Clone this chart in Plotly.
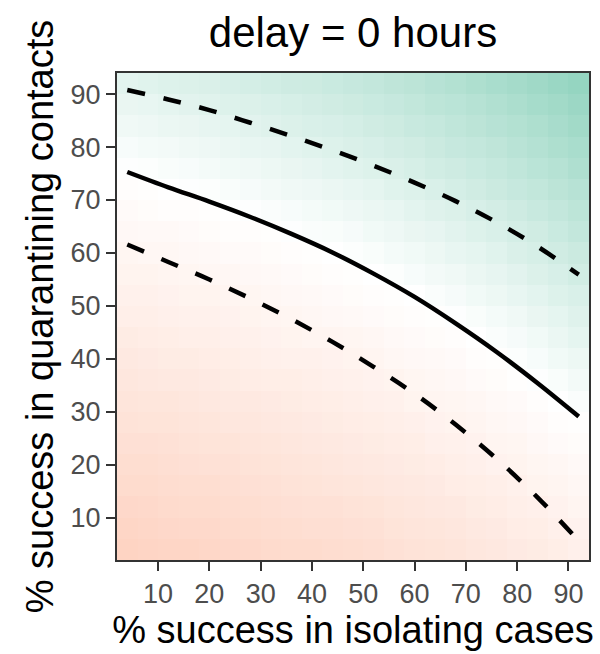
import plotly.graph_objects as go

# grid centres (% success)
iso_pct = [4, 8, 12, 16, 20, 24, 28, 32, 36, 40, 44, 48, 52, 56, 60, 64, 68, 72, 76, 80, 84, 88, 92]
quar_pct = [4, 8, 12, 16, 20, 24, 28, 32, 36, 40, 44, 48, 52, 56, 60, 64, 68, 72, 76, 80, 84, 88, 92]

# fill value per cell (rows = quarantine %, columns = isolation %)
fill_vals = [
    [-38,-37,-36,-36,-35,-34,-33,-32,-31,-31,-30,-29,-28,-26,-25,-24,-23,-21,-20,-18,-17,-15,-13],
    [-36,-35,-34,-33,-33,-32,-31,-30,-29,-28,-28,-27,-26,-24,-23,-22,-21,-19,-18,-16,-15,-13,-11],
    [-34,-33,-32,-31,-31,-30,-29,-28,-27,-26,-26,-25,-24,-22,-21,-20,-19,-17,-16,-14,-13,-11,-9],
    [-31,-31,-30,-29,-29,-28,-27,-26,-25,-24,-23,-22,-21,-20,-19,-18,-16,-15,-14,-12,-10,-9,-7],
    [-29,-29,-28,-27,-26,-26,-25,-24,-23,-22,-21,-20,-19,-18,-17,-16,-14,-13,-11,-10,-8,-7,-5],
    [-27,-27,-26,-25,-24,-24,-23,-22,-21,-20,-19,-18,-17,-16,-15,-13,-12,-11,-9,-8,-6,-4,-3],
    [-25,-24,-24,-23,-22,-21,-21,-20,-19,-18,-17,-16,-15,-14,-13,-11,-10,-9,-7,-6,-4,-2,-1],
    [-23,-22,-22,-21,-20,-19,-19,-18,-17,-16,-15,-14,-13,-12,-10,-9,-8,-7,-5,-4,-2,0,3],
    [-21,-20,-19,-19,-18,-17,-16,-15,-15,-14,-13,-12,-11,-10,-8,-7,-6,-4,-3,-1,1,4,8],
    [-19,-18,-17,-17,-16,-15,-14,-13,-12,-12,-11,-10,-9,-7,-6,-5,-4,-2,-1,2,5,9,12],
    [-17,-16,-15,-14,-14,-13,-12,-11,-10,-9,-9,-8,-7,-5,-4,-3,-2,0,3,6,9,13,17],
    [-14,-14,-13,-12,-12,-11,-10,-9,-8,-7,-6,-5,-4,-3,-2,-1,1,4,7,10,14,17,21],
    [-12,-12,-11,-10,-10,-9,-8,-7,-6,-5,-4,-3,-2,-1,0,3,6,9,12,15,18,22,25],
    [-10,-10,-9,-8,-7,-7,-6,-5,-4,-3,-2,-1,0,2,5,8,10,13,16,19,23,26,30],
    [-8,-7,-7,-6,-5,-4,-4,-3,-2,-1,0,2,4,7,9,12,15,17,20,24,27,31,34],
    [-6,-5,-5,-4,-3,-2,-2,-1,1,3,4,6,9,11,14,16,19,22,25,28,31,35,39],
    [-4,-3,-2,-2,-1,0,1,3,5,7,9,11,13,15,18,21,23,26,29,32,36,39,43],
    [-2,-1,0,1,2,4,6,8,10,11,13,15,17,20,22,25,28,31,34,37,40,44,47],
    [1,2,4,5,7,9,10,12,14,16,18,20,22,24,27,30,32,35,38,41,45,48,52],
    [5,7,8,10,11,13,15,16,18,20,22,24,26,29,31,34,37,39,42,46,49,53,56],
    [10,11,13,14,16,17,19,21,23,25,26,28,31,33,36,38,41,44,47,50,53,57,61],
    [14,15,17,19,20,22,23,25,27,29,31,33,35,37,40,43,45,48,51,54,58,61,65],
    [18,20,22,23,24,26,28,30,32,33,35,37,39,42,44,47,50,53,56,59,62,66,69],
]

# contour lines
line_x = [4, 12, 20, 28, 36, 44, 52, 60, 68, 76, 84, 92]
mid_y = [75.3, 72.4, 69.7, 66.8, 63.6, 60.1, 56.1, 51.7, 46.7, 41.3, 35.4, 29.1]
upper_y = [90.8, 89.0, 87.0, 84.6, 82.1, 79.4, 76.5, 73.3, 69.8, 65.8, 61.2, 55.9]
lower_y = [61.6, 58.3, 55.0, 51.4, 47.5, 43.2, 38.5, 33.4, 27.6, 21.1, 13.8, 5.6]

tick_vals = [10, 20, 30, 40, 50, 60, 70, 80, 90]
tick_text = ["10", "20", "30", "40", "50", "60", "70", "80", "90"]

FONT = "Liberation Sans, Arial, Helvetica, sans-serif"

fig = go.Figure()
fig.add_trace(go.Heatmap(
    x=iso_pct, y=quar_pct, z=fill_vals,
    zmin=-100, zmax=100,
    colorscale=[[0, "#FC8D62"], [0.5, "#FFFFFF"], [1, "#66C2A5"]],
    showscale=False, hoverinfo="skip",
))
for ys, dash in [(upper_y, "18px,19px"), (mid_y, "solid"), (lower_y, "18px,19px")]:
    fig.add_trace(go.Scatter(
        x=line_x, y=ys, mode="lines",
        line=dict(color="black", width=4.5, dash=dash, shape="spline", smoothing=1.0),
        showlegend=False, hoverinfo="skip",
    ))

axis_common = dict(
    range=[2, 94], tickvals=tick_vals, ticktext=tick_text,
    ticks="outside", ticklen=9, tickwidth=2, tickcolor="#333333",
    tickfont=dict(family=FONT, size=27, color="#4D4D4D"),
    showgrid=False, zeroline=False,
    showline=True, linecolor="#333333", linewidth=2, mirror=True,
)

fig.update_layout(
    width=600, height=654,
    margin=dict(l=117, r=9, t=73, b=94),
    paper_bgcolor="white", plot_bgcolor="white",
    showlegend=False,
    title=dict(text="delay = 0 hours", x=0.5, xref="paper", xanchor="center",
               y=1 - 32 / 654, yanchor="middle",
               font=dict(family=FONT, size=42, color="black")),
    xaxis=dict(**axis_common,
               title=dict(text="% success in isolating cases", standoff=5,
                          font=dict(family=FONT, size=38, color="black"))),
    yaxis=dict(**axis_common,
               title=dict(text="% success in quarantining contacts", standoff=5,
                          font=dict(family=FONT, size=38, color="black"))),
)

fig.write_html("out.html")
